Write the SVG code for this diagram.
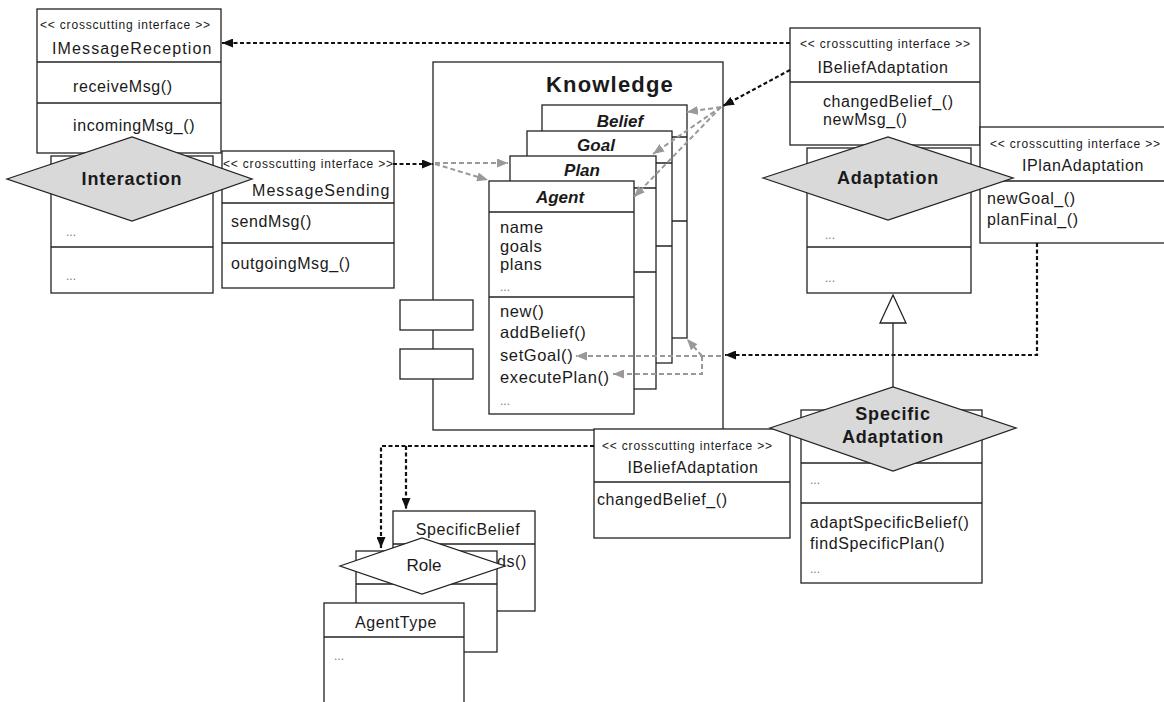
<svg xmlns="http://www.w3.org/2000/svg" width="1164" height="702" viewBox="0 0 1164 702">
  <style>
    .bx { fill: #fff; stroke: #222; stroke-width: 1.3; }
    .ln { fill: none; stroke: #222; stroke-width: 1.3; }
    .dia { fill: #d9d9d9; stroke: #222; stroke-width: 1.3; }
    .diaw { fill: #fff; stroke: #222; stroke-width: 1.3; }
    .t { font-family: "Liberation Sans", Arial, sans-serif; fill: #1a1a1a; }
    .st { font-size: 12px; }
    .nm { font-size: 16px; letter-spacing: 0.6px; }
    .me { font-size: 16.5px; letter-spacing: 0.6px; }
    .dots { font-size: 12px; fill: #777; }
    .asp { font-size: 18px; font-weight: bold; letter-spacing: 0.8px; }
    .hd { font-size: 17px; font-weight: bold; font-style: italic; }
    .dk { fill: none; stroke: #111; stroke-width: 2.2; stroke-dasharray: 4 2.5; }
    .gr { fill: none; stroke: #999; stroke-width: 2; stroke-dasharray: 5 3; }
  </style>
  <defs>
    <marker id="ab" markerUnits="userSpaceOnUse" markerWidth="11" markerHeight="9" refX="11" refY="4.5" orient="auto">
      <path d="M0,0 L11,4.5 L0,9 z" fill="#111"/>
    </marker>
    <marker id="ag" markerUnits="userSpaceOnUse" markerWidth="11" markerHeight="9" refX="11" refY="4.5" orient="auto">
      <path d="M0,0 L11,4.5 L0,9 z" fill="#999"/>
    </marker>
  </defs>
  <rect width="1164" height="702" fill="#fff"/>

  <!-- Interaction aspect with its crosscutting interfaces -->
  <g id="imessagereception">
    <rect class="bx" x="37" y="9" width="184" height="144"/>
    <line class="ln" x1="37" y1="62" x2="221" y2="62"/>
    <line class="ln" x1="37" y1="103" x2="221" y2="103"/>
    <text class="t st" x="40" y="29" textLength="170">&lt;&lt; crosscutting interface &gt;&gt;</text>
    <text class="t nm" x="52" y="54" textLength="160">IMessageReception</text>
    <text class="t nm" x="73" y="92">receiveMsg()</text>
    <text class="t nm" x="73" y="131">incomingMsg_()</text>
  </g>
  <g id="imessagesending">
    <rect class="bx" x="222" y="151" width="172" height="137"/>
    <line class="ln" x1="222" y1="203" x2="394" y2="203"/>
    <line class="ln" x1="222" y1="243" x2="394" y2="243"/>
    <text class="t st" x="223" y="168" textLength="170">&lt;&lt; crosscutting interface &gt;&gt;</text>
    <text class="t nm" x="252" y="196" textLength="138">MessageSending</text>
    <text class="t nm" x="231" y="227">sendMsg()</text>
    <text class="t nm" x="231" y="269">outgoingMsg_()</text>
  </g>
  <g id="interaction">
    <rect class="bx" x="51" y="156" width="162" height="137"/>
    <line class="ln" x1="51" y1="247" x2="213" y2="247"/>
    <text class="t dots" x="66" y="236">...</text>
    <text class="t dots" x="66" y="280">...</text>
    <polygon class="dia" points="7,179 132,137 252,179 132,221"/>
    <text class="t asp" x="132" y="185" text-anchor="middle">Interaction</text>
  </g>

  <!-- Knowledge component -->
  <g id="knowledge">
    <rect class="bx" x="433" y="62" width="290" height="368"/>
    <rect class="bx" x="400" y="300" width="73" height="30"/>
    <rect class="bx" x="400" y="349" width="73" height="30"/>
    <text class="t" x="610" y="92" text-anchor="middle" font-size="22" font-weight="bold" letter-spacing="1.2">Knowledge</text>
  </g>
  <g id="belief">
    <rect class="bx" x="542" y="105" width="145" height="233"/>
    <line class="ln" x1="542" y1="137" x2="687" y2="137"/>
    <line class="ln" x1="542" y1="221" x2="687" y2="221"/>
    <text class="t hd" x="620" y="127" text-anchor="middle">Belief</text>
  </g>
  <g id="goal">
    <rect class="bx" x="527" y="131" width="145" height="232"/>
    <line class="ln" x1="527" y1="163" x2="672" y2="163"/>
    <line class="ln" x1="527" y1="246" x2="672" y2="246"/>
    <text class="t hd" x="596" y="151" text-anchor="middle">Goal</text>
  </g>
  <g id="plan">
    <rect class="bx" x="510" y="156" width="146" height="233"/>
    <line class="ln" x1="510" y1="188" x2="656" y2="188"/>
    <line class="ln" x1="510" y1="272" x2="656" y2="272"/>
    <text class="t hd" x="582" y="176" text-anchor="middle">Plan</text>
  </g>
  <g id="agent">
    <rect class="bx" x="489" y="181" width="145" height="233"/>
    <line class="ln" x1="489" y1="212" x2="634" y2="212"/>
    <line class="ln" x1="489" y1="297" x2="634" y2="297"/>
    <text class="t hd" x="560" y="203" text-anchor="middle">Agent</text>
    <text class="t me" x="500" y="233">name</text>
    <text class="t me" x="500" y="252">goals</text>
    <text class="t me" x="500" y="270">plans</text>
    <text class="t dots" x="500" y="291">...</text>
    <text class="t me" x="500" y="317">new()</text>
    <text class="t me" x="500" y="338">addBelief()</text>
    <text class="t me" x="500" y="361">setGoal()</text>
    <text class="t me" x="500" y="383">executePlan()</text>
    <text class="t dots" x="500" y="405">...</text>
  </g>

  <!-- Adaptation aspect with its crosscutting interfaces -->
  <g id="ibeliefadaptation-top">
    <rect class="bx" x="790" y="28" width="190" height="117"/>
    <line class="ln" x1="790" y1="82" x2="980" y2="82"/>
    <text class="t st" x="800" y="48" textLength="170">&lt;&lt; crosscutting interface &gt;&gt;</text>
    <text class="t nm" x="883" y="73" text-anchor="middle">IBeliefAdaptation</text>
    <text class="t nm" x="823" y="107">changedBelief_()</text>
    <text class="t nm" x="823" y="125">newMsg_()</text>
  </g>
  <g id="iplanadaptation">
    <rect class="bx" x="980" y="127" width="190" height="116"/>
    <line class="ln" x1="980" y1="181" x2="1170" y2="181"/>
    <text class="t st" x="990" y="148" textLength="170">&lt;&lt; crosscutting interface &gt;&gt;</text>
    <text class="t nm" x="1083" y="171" text-anchor="middle">IPlanAdaptation</text>
    <text class="t nm" x="987" y="204">newGoal_()</text>
    <text class="t nm" x="987" y="225">planFinal_()</text>
  </g>
  <g id="adaptation">
    <rect class="bx" x="807" y="148" width="164" height="145"/>
    <line class="ln" x1="807" y1="247" x2="971" y2="247"/>
    <text class="t dots" x="825" y="239">...</text>
    <text class="t dots" x="825" y="282">...</text>
    <polygon class="dia" points="763,178 888,137 1013,178 888,220"/>
    <text class="t asp" x="888" y="184" text-anchor="middle">Adaptation</text>
  </g>
  <g id="ibeliefadaptation-bottom">
    <rect class="bx" x="594" y="429" width="196" height="109"/>
    <line class="ln" x1="594" y1="482" x2="790" y2="482"/>
    <text class="t st" x="602" y="450" textLength="170">&lt;&lt; crosscutting interface &gt;&gt;</text>
    <text class="t nm" x="693" y="473" text-anchor="middle">IBeliefAdaptation</text>
    <text class="t nm" x="597" y="505">changedBelief_()</text>
  </g>
  <g id="specific-adaptation">
    <rect class="bx" x="801" y="410" width="181" height="173"/>
    <line class="ln" x1="801" y1="463" x2="982" y2="463"/>
    <line class="ln" x1="801" y1="503" x2="982" y2="503"/>
    <text class="t dots" x="810" y="484">...</text>
    <text class="t nm" x="810" y="528">adaptSpecificBelief()</text>
    <text class="t nm" x="810" y="549">findSpecificPlan()</text>
    <text class="t dots" x="810" y="573">...</text>
    <polygon class="dia" points="770,428 893,387 1016,428 893,471"/>
    <text class="t asp" x="893" y="420" text-anchor="middle">Specific</text>
    <text class="t asp" x="893" y="443" text-anchor="middle">Adaptation</text>
  </g>

  <!-- Role, SpecificBelief and AgentType -->
  <g id="specificbelief">
    <rect class="bx" x="393" y="511" width="142" height="100"/>
    <line class="ln" x1="393" y1="544" x2="535" y2="544"/>
    <text class="t nm" x="468" y="535" text-anchor="middle">SpecificBelief</text>
    <text class="t nm" x="497" y="567" fill="#888">ds()</text>
  </g>
  <g id="role">
    <rect class="bx" x="356" y="551" width="141" height="101"/>
    <line class="ln" x1="356" y1="584" x2="497" y2="584"/>
    <polygon class="diaw" points="340,566 422,538 505,566 422,594"/>
    <text class="t" x="424" y="571" text-anchor="middle" font-size="17">Role</text>
  </g>
  <g id="agenttype">
    <rect class="bx" x="324" y="603" width="140" height="110"/>
    <line class="ln" x1="324" y1="637" x2="464" y2="637"/>
    <text class="t nm" x="396" y="628" text-anchor="middle">AgentType</text>
    <text class="t dots" x="334" y="660">...</text>
  </g>

  <!-- Connectors -->
  <g id="connectors">
    <!-- crosscutting links -->
    <path class="dk" d="M790,43 H222" marker-end="url(#ab)"/>
    <path class="dk" d="M790,70 L723,106" marker-end="url(#ab)"/>
    <path class="dk" d="M393,164 H433" marker-end="url(#ab)"/>
    <path class="dk" d="M1037,243 V355 H725" marker-end="url(#ab)"/>
    <path class="dk" d="M594,446 H381 V548" marker-end="url(#ab)"/>
    <path class="dk" d="M406,446 V509" marker-end="url(#ab)"/>
    <!-- join points inside Knowledge -->
    <path class="gr" d="M435,163 H508" marker-end="url(#ag)"/>
    <path class="gr" d="M435,164 L488,180" marker-end="url(#ag)"/>
    <path class="gr" d="M721,107 L687,112" marker-end="url(#ag)"/>
    <path class="gr" d="M721,107 L653,154" marker-end="url(#ag)"/>
    <path class="gr" d="M721,107 L634,197" marker-end="url(#ag)"/>
    <path class="gr" d="M721,356 H576" marker-end="url(#ag)"/>
    <path class="gr" d="M702,356 V374 H613" marker-end="url(#ag)"/>
    <path class="gr" d="M702,356 L687,339" marker-end="url(#ag)"/>
    <!-- generalization -->
    <line class="ln" x1="893" y1="387" x2="893" y2="323"/>
    <polygon fill="#fff" stroke="#222" stroke-width="1.3" points="893,295 906,323 880,323"/>
  </g>
</svg>
